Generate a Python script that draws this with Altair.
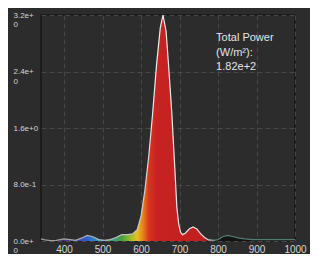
import altair as alt
import pandas as pd

# Spectrum (nm, W/m²/nm scaled)
wavelength = [340, 350, 365, 380, 400, 415, 430, 445, 460, 475, 490, 505, 520, 535,
              550, 565, 578, 590, 600, 610, 620, 630, 640, 650, 657, 665, 672, 680,
              687, 693, 698, 703, 708, 715, 725, 735, 745, 755, 765, 775, 790, 800,
              812, 825, 840, 855, 870, 890, 920, 950, 1000]
power = [0.03, 0.015, 0.005, 0.01, 0.03, 0.02, 0.01, 0.04, 0.08, 0.06, 0.02, 0.01, 0.02, 0.05,
         0.09, 0.09, 0.10, 0.16, 0.35, 0.72, 1.20, 1.80, 2.48, 3.02, 3.20, 2.97, 2.45, 1.80,
         1.10, 0.48, 0.23, 0.12, 0.09, 0.11, 0.17, 0.20, 0.17, 0.10, 0.05, 0.015, 0.01, 0.02,
         0.06, 0.08, 0.06, 0.04, 0.03, 0.02, 0.02, 0.02, 0.02]

x_ticks = [400, 500, 600, 700, 800, 900, 1000]
y_ticks = [0, 0.8, 1.6, 2.4, 3.2]
annotation = ["Total Power", "(W/m²):", "1.82e+2"]

# wavelength -> display colour stops for the fill gradient
grad_nm = [340, 375, 400, 430, 460, 490, 515, 550, 570, 590, 605, 620, 640, 760, 778, 790, 1000]
grad_col = ["#1e1e1e", "#2a2440", "#4a3590", "#4b3fb0", "#2f5fd0", "#2a9ab8", "#2aa890",
            "#45a040", "#8fbc2c", "#e6c020", "#e8801e", "#d8361f", "#c82222", "#c02020",
            "#7a1515", "#141414", "#141414"]

lo, hi = 340, 1000
fill_grad = alt.Gradient(
    gradient="linear", x1=0, x2=1, y1=0, y2=0,
    stops=[alt.GradientStop(offset=(w - lo) / (hi - lo), color=c) for w, c in zip(grad_nm, grad_col)],
)
line_grad = alt.Gradient(
    gradient="linear", x1=0, x2=1, y1=0, y2=0,
    stops=[
        alt.GradientStop(offset=0, color="#9a9a9a"),
        alt.GradientStop(offset=(600 - lo) / (hi - lo), color="#c8c8c8"),
        alt.GradientStop(offset=(640 - lo) / (hi - lo), color="#eeeeee"),
        alt.GradientStop(offset=(775 - lo) / (hi - lo), color="#dddddd"),
        alt.GradientStop(offset=(795 - lo) / (hi - lo), color="#4f7f74"),
        alt.GradientStop(offset=1, color="#4f7f74"),
    ],
)

df = pd.DataFrame({"wl": wavelength, "p": power})

x_enc = alt.X("wl:Q", scale=alt.Scale(domain=[lo, hi], nice=False, zero=False),
              axis=alt.Axis(values=x_ticks, title=None, grid=True, gridColor="#474747",
                            gridDash=[5, 3], gridWidth=1, domain=False, ticks=False, tickSize=0,
                            format="d",
                            labelColor="#d4d4d4", labelFontSize=10, labelPadding=3,
                            labelFlush=False, labelOverlap=False, labelFont="Liberation Sans"))
y_enc = alt.Y("p:Q", scale=alt.Scale(domain=[0, 3.2], nice=False),
              axis=alt.Axis(values=y_ticks, title=None, grid=True, gridColor="#474747",
                            gridDash=[5, 3], gridWidth=1, domain=False, ticks=False, tickSize=0,
                            labelColor="#d4d4d4", labelFontSize=8, labelAlign="left",
                            labelBaseline="middle", labelPadding=28, labelLineHeight=9.5,
                            labelOverlap=False, labelFlush=False, labelFont="Liberation Sans",
                            labelExpr="datum.value == 0 ? ['0.0e+', '0'] : datum.value == 0.8 ? '8.0e-1' : "
                                      "datum.value == 1.6 ? '1.6e+0' : datum.value == 2.4 ? ['2.4e+', '0'] : ['3.2e+', '0']"))

area = alt.Chart(df).mark_area(fill=fill_grad, opacity=1).encode(x=x_enc, y=y_enc)
line = alt.Chart(df).mark_line(stroke=line_grad, strokeWidth=1.2).encode(x="wl:Q", y="p:Q")

label_df = pd.DataFrame({"wl": [795], "p": [2.87]})
label = alt.Chart(label_df).mark_text(
    text=annotation, align="left", baseline="middle", fontSize=11, lineHeight=14.5,
    color="#e4e4e4", font="Liberation Sans"
).encode(x="wl:Q", y="p:Q")

chart = (area + line + label).properties(
    width=254, height=226,
    autosize=alt.AutoSizeParams(type="none"),
    padding={"left": 33, "top": 7, "right": 15, "bottom": 13},
    background="#2c2c2c",
).configure_view(stroke="#161616", strokeWidth=1.5)

chart.save("out.html", embed_options={"renderer": "svg", "actions": False})
